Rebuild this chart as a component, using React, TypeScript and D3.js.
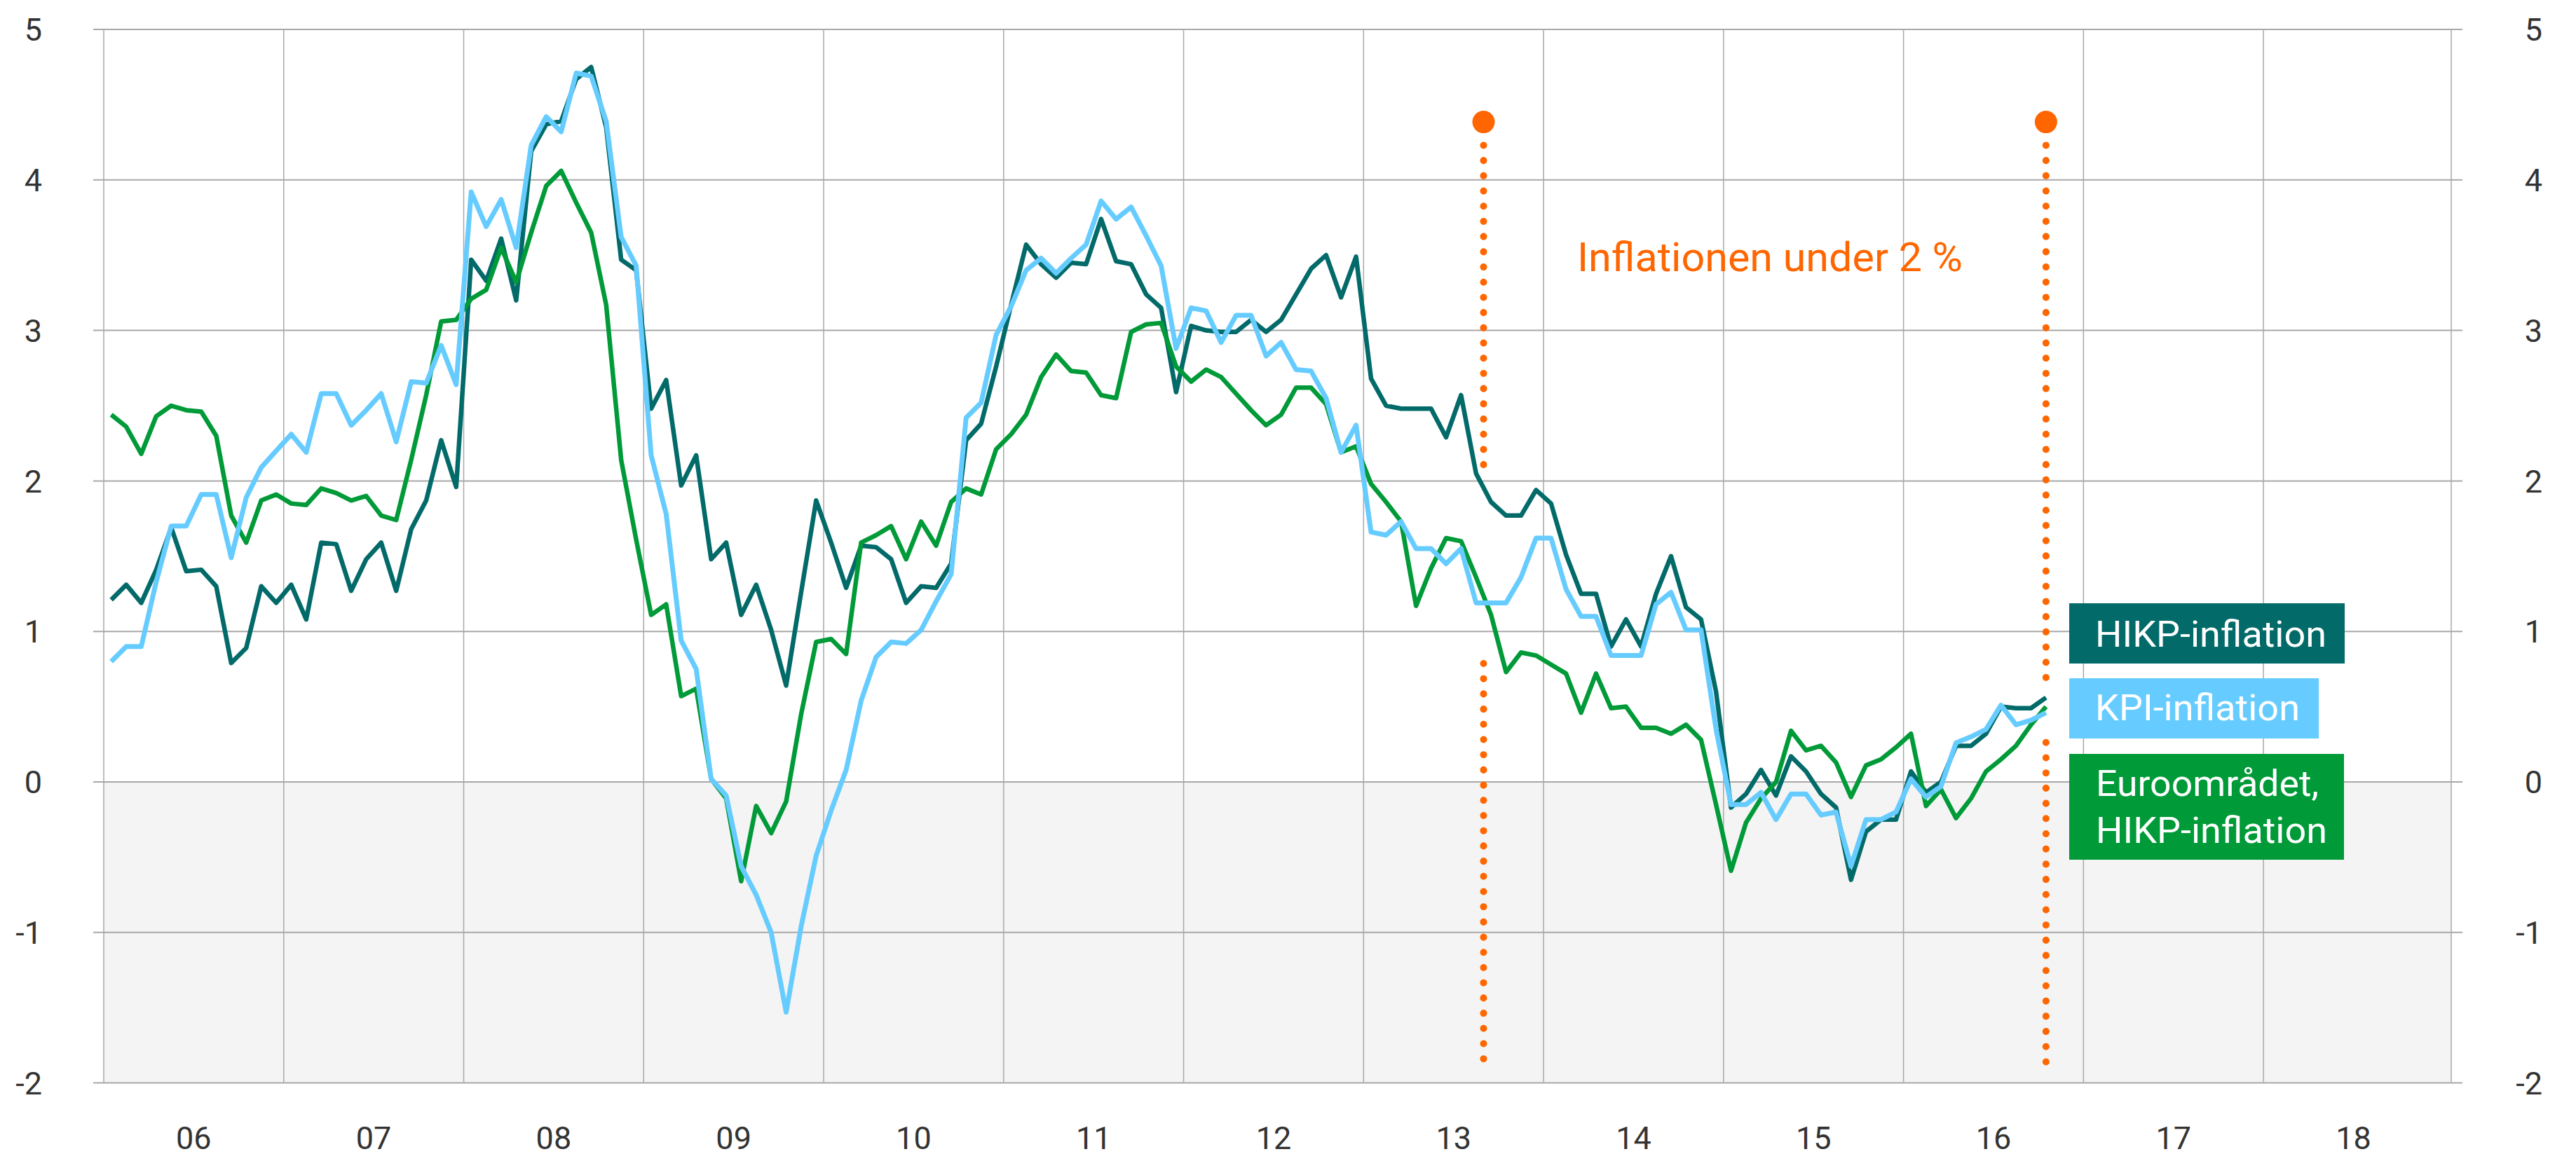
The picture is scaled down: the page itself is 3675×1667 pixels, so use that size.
import React from 'react';
import * as d3 from 'd3';

// ---- data (monthly, Jan 2006 .. Oct 2016) ----
const startYear = 2006;
const yearLabels = ['06', '07', '08', '09', '10', '11', '12', '13', '14', '15', '16', '17', '18'];
const yTicks = [-2, -1, 0, 1, 2, 3, 4, 5];

const hikp = [
  1.21, 1.31, 1.19, 1.41, 1.69, 1.40, 1.41, 1.30, 0.79, 0.89, 1.30, 1.19,
  1.31, 1.08, 1.59, 1.58, 1.27, 1.48, 1.59, 1.27, 1.68, 1.87, 2.27, 1.96,
  3.47, 3.33, 3.61, 3.20, 4.19, 4.37, 4.39, 4.67, 4.75, 4.35, 3.47, 3.40,
  2.48, 2.67, 1.97, 2.17, 1.48, 1.59, 1.11, 1.31, 1.01, 0.64, 1.26, 1.87,
  1.59, 1.29, 1.57, 1.56, 1.48, 1.19, 1.30, 1.29, 1.45, 2.27, 2.38, 2.76,
  3.17, 3.57, 3.44, 3.35, 3.45, 3.44, 3.74, 3.46, 3.44, 3.24, 3.15, 2.59,
  3.03, 3.00, 2.99, 2.99, 3.07, 2.99, 3.07, 3.24, 3.41, 3.50, 3.22, 3.49,
  2.68, 2.50, 2.48, 2.48, 2.48, 2.29, 2.57, 2.05, 1.86, 1.77, 1.77, 1.94,
  1.85, 1.51, 1.25, 1.25, 0.90, 1.08, 0.90, 1.25, 1.50, 1.16, 1.08, 0.60,
  -0.17, -0.08, 0.08, -0.09, 0.17, 0.07, -0.08, -0.17, -0.65, -0.33, -0.25, -0.25,
  0.07, -0.07, 0.0, 0.24, 0.24, 0.32, 0.50, 0.49, 0.49, 0.56,
];

const kpi = [
  0.80, 0.90, 0.90, 1.33, 1.70, 1.70, 1.91, 1.91, 1.49, 1.89, 2.09, 2.20,
  2.31, 2.19, 2.58, 2.58, 2.37, 2.47, 2.58, 2.26, 2.66, 2.65, 2.90, 2.64,
  3.92, 3.69, 3.87, 3.55, 4.23, 4.42, 4.32, 4.71, 4.69, 4.39, 3.62, 3.43,
  2.17, 1.78, 0.94, 0.75, 0.02, -0.09, -0.56, -0.75, -1.00, -1.53, -0.96, -0.49,
  -0.19, 0.08, 0.54, 0.83, 0.93, 0.92, 1.01, 1.20, 1.38, 2.42, 2.52, 2.97,
  3.16, 3.40, 3.48, 3.38, 3.48, 3.57, 3.86, 3.74, 3.82, 3.63, 3.43, 2.88,
  3.15, 3.13, 2.92, 3.10, 3.10, 2.83, 2.92, 2.74, 2.73, 2.55, 2.19, 2.37,
  1.66, 1.64, 1.73, 1.55, 1.55, 1.45, 1.55, 1.19, 1.19, 1.19, 1.36, 1.62,
  1.62, 1.28, 1.10, 1.10, 0.84, 0.84, 0.84, 1.18, 1.26, 1.01, 1.01, 0.35,
  -0.15, -0.15, -0.07, -0.25, -0.08, -0.08, -0.22, -0.20, -0.56, -0.25, -0.25, -0.20,
  0.02, -0.10, -0.03, 0.26, 0.30, 0.35, 0.51, 0.38, 0.41, 0.46,
];

const euro = [
  2.44, 2.36, 2.18, 2.43, 2.50, 2.47, 2.46, 2.30, 1.77, 1.59, 1.87, 1.91,
  1.85, 1.84, 1.95, 1.92, 1.87, 1.90, 1.77, 1.74, 2.14, 2.57, 3.06, 3.07,
  3.21, 3.27, 3.55, 3.32, 3.65, 3.96, 4.06, 3.85, 3.65, 3.17, 2.14, 1.61,
  1.11, 1.18, 0.57, 0.62, 0.02, -0.11, -0.66, -0.16, -0.34, -0.13, 0.45, 0.93,
  0.95, 0.85, 1.59, 1.64, 1.70, 1.48, 1.73, 1.57, 1.86, 1.95, 1.91, 2.21,
  2.31, 2.44, 2.69, 2.84, 2.73, 2.72, 2.57, 2.55, 2.99, 3.04, 3.05, 2.76,
  2.66, 2.74, 2.69, 2.58, 2.47, 2.37, 2.44, 2.62, 2.62, 2.51, 2.19, 2.23,
  1.98, 1.86, 1.73, 1.17, 1.42, 1.62, 1.60, 1.36, 1.11, 0.73, 0.86, 0.84,
  0.78, 0.72, 0.46, 0.72, 0.49, 0.50, 0.36, 0.36, 0.32, 0.38, 0.28, -0.15,
  -0.59, -0.27, -0.11, 0.0, 0.34, 0.21, 0.24, 0.13, -0.10, 0.11, 0.15, 0.23,
  0.32, -0.16, -0.05, -0.24, -0.11, 0.07, 0.15, 0.24, 0.38, 0.50,
];

const legendHikp = 'HIKP-inflation';
const legendKpi = 'KPI-inflation';
const legendEuro = ['Euroområdet,', 'HIKP-inflation'];
const annotationText = 'Inflationen under 2 %';
// period markers: start (month boundary Sep 2013) and end (Oct 2016 observation)
const markerMonths = [92, 129.5];

// ---- styling ----
const W = 3675;
const H = 1667;
const C_HIKP = '#026a69';
const C_KPI = '#66ccff';
const C_EURO = '#009a38';
const C_ORANGE = '#ff6600';
const C_GRID = '#a8a8a8';
const C_TEXT = '#333333';
const FONT = 'Roboto, "DejaVu Sans", sans-serif';

export default function App() {
  const plotL = 148;
  const plotR = 3497;
  const nYears = yearLabels.length;
  const x = d3.scaleLinear().domain([0, nYears * 12 + 0.52]).range([plotL, plotR]);
  const y = d3.scaleLinear().domain([-2, 5]).range([1545.6, 42]);

  const line = d3
    .line<number>()
    .x((_, i) => x(i + 0.5))
    .y((d) => y(d));

  const yearBounds = d3.range(nYears).map((k) => k * 12);

  // dotted vertical segment; dots are laid out starting at (m, vStart)
  const dotted = (m: number, vStart: number, vEnd: number, key: string) => (
    <line
      key={key}
      x1={x(m)}
      x2={x(m)}
      y1={y(vStart)}
      y2={y(vEnd)}
      stroke={C_ORANGE}
      strokeWidth={10}
      strokeLinecap="round"
      strokeDasharray="0.1 21.6"
    />
  );

  return (
    <svg
      width={W}
      height={H}
      style={{ position: 'absolute', left: 0, top: 0, background: '#fff' }}
      fontFamily={FONT}
    >
      {/* negative area shading */}
      <rect x={plotL} y={y(0)} width={plotR - plotL} height={y(-2) - y(0)} fill="#f4f4f4" />

      {/* vertical grid */}
      {yearBounds.map((m) => (
        <line key={'v' + m} x1={x(m)} x2={x(m)} y1={y(5)} y2={y(-2)} stroke={C_GRID} strokeWidth={1.5} />
      ))}
      <line x1={plotR} x2={plotR} y1={y(5)} y2={y(-2)} stroke={C_GRID} strokeWidth={1.5} />

      {/* horizontal grid */}
      {yTicks.map((t) => (
        <line key={'h' + t} x1={plotL - 15} x2={plotR + 16} y1={y(t)} y2={y(t)} stroke={C_GRID} strokeWidth={2} />
      ))}

      {/* y labels */}
      {yTicks.map((t) => (
        <g key={'yl' + t}>
          <text x={60} y={y(t)} dy="0.36em" textAnchor="end" fontSize={45} fill={C_TEXT}>
            {t}
          </text>
          <text x={3627} y={y(t)} dy="0.36em" textAnchor="end" fontSize={45} fill={C_TEXT}>
            {t}
          </text>
        </g>
      ))}

      {/* x labels */}
      {yearLabels.map((lab, k) => (
        <text key={'xl' + lab} x={x(k * 12 + 6)} y={1640} textAnchor="middle" fontSize={45} fill={C_TEXT}>
          {lab}
        </text>
      ))}

      {/* dotted period markers */}
      {dotted(markerMonths[0], 4.23, 2.1, 'd1a')}
      {dotted(markerMonths[0], -1.84, 0.885, 'd1b')}
      {dotted(markerMonths[1], 4.23, 0.69, 'd2a')}
      {dotted(markerMonths[1], -1.86, 0.27, 'd2b')}
      {markerMonths.map((m, k) => (
        <circle key={'c' + k} cx={x(m)} cy={y(4.385)} r={16} fill={C_ORANGE} />
      ))}

      {/* series */}
      <path d={line(hikp) || ''} fill="none" stroke={C_HIKP} strokeWidth={6.5} strokeLinejoin="round" />
      <path d={line(euro) || ''} fill="none" stroke={C_EURO} strokeWidth={6.5} strokeLinejoin="round" />
      <path d={line(kpi) || ''} fill="none" stroke={C_KPI} strokeWidth={7} strokeLinejoin="round" />

      {/* annotation */}
      <text x={2250} y={387} fontSize={58} fill={C_ORANGE} textLength={550} lengthAdjust="spacingAndGlyphs">
        {annotationText}
      </text>

      {/* legend */}
      <rect x={2952} y={861} width={393} height={86} fill={C_HIKP} />
      <text x={2989} y={923} fontSize={52} fill="#fff" textLength={330} lengthAdjust="spacingAndGlyphs">
        {legendHikp}
      </text>
      <rect x={2952} y={968} width={356} height={86} fill={C_KPI} />
      <text x={2989} y={1028} fontSize={52} fill="#fff" textLength={292} lengthAdjust="spacingAndGlyphs">
        {legendKpi}
      </text>
      <rect x={2952} y={1076} width={392} height={151} fill={C_EURO} />
      <text x={2990} y={1136} fontSize={52} fill="#fff" textLength={318} lengthAdjust="spacingAndGlyphs">
        {legendEuro[0]}
      </text>
      <text x={2990} y={1203} fontSize={52} fill="#fff" textLength={330} lengthAdjust="spacingAndGlyphs">
        {legendEuro[1]}
      </text>
    </svg>
  );
}
